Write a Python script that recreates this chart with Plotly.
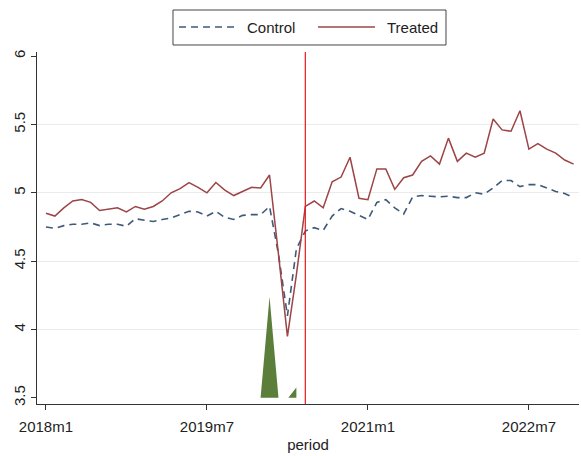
import plotly.graph_objects as go

# Monthly outcome means, 2018m1 .. 2022m12 (month index 0 = 2018m1)
months = list(range(60))
periods = [f"{2018 + m // 12}m{m % 12 + 1}" for m in months]

control = [4.75, 4.74, 4.76, 4.77, 4.77, 4.78, 4.76, 4.77, 4.77, 4.755,
           4.81, 4.80, 4.79, 4.805, 4.815, 4.84, 4.865, 4.86, 4.83, 4.865,
           4.82, 4.805, 4.835, 4.84, 4.84, 4.90, 4.55, 4.10, 4.59, 4.72,
           4.745, 4.725, 4.83, 4.885, 4.865, 4.835, 4.805, 4.93, 4.95, 4.89,
           4.845, 4.97, 4.98, 4.975, 4.97, 4.975, 4.965, 4.965, 5.00, 4.99,
           5.035, 5.09, 5.09, 5.045, 5.06, 5.06, 5.035, 5.01, 4.995, 4.965]

treated = [4.85, 4.83, 4.89, 4.94, 4.95, 4.93, 4.87, 4.88, 4.89, 4.86,
           4.90, 4.88, 4.90, 4.94, 5.00, 5.03, 5.075, 5.04, 5.00, 5.075,
           5.02, 4.98, 5.01, 5.04, 5.035, 5.13, 4.55, 3.95, 4.40, 4.90,
           4.94, 4.89, 5.08, 5.115, 5.26, 4.96, 4.95, 5.175, 5.175, 5.025,
           5.11, 5.13, 5.23, 5.27, 5.21, 5.40, 5.23, 5.29, 5.26, 5.29,
           5.54, 5.46, 5.45, 5.60, 5.32, 5.36, 5.32, 5.29, 5.24, 5.21]

# Shaded area segments (None separates the two pieces)
area_x = [24, 25, 26, None, 27.1, 28, 28]
area_y = [3.5, 4.24, 3.5, None, 3.5, 3.575, 3.5]

treat_month = 29  # 2020m6

tick_months = [0, 18, 36, 54]
tick_labels = ["2018m1", "2019m7", "2021m1", "2022m7"]
y_ticks = [3.5, 4, 4.5, 5, 5.5, 6]
y_tick_labels = ["3.5", "4", "4.5", "5", "5.5", "6"]
grid_vals = [4, 4.5, 5, 5.5]

CONTROL_COLOR = "#3f5a78"
TREATED_COLOR = "#9c4446"
CONTROL_DASH = "7px,5px"

fig = go.Figure()

fig.add_trace(go.Scatter(
    x=area_x, y=area_y, mode="none", fill="toself",
    fillcolor="#5b7f3b", showlegend=False, hoverinfo="skip"))

fig.add_trace(go.Scatter(
    x=months, y=control, mode="lines", name="Control", showlegend=False,
    line=dict(color=CONTROL_COLOR, width=1.6, dash=CONTROL_DASH),
    text=periods, hovertemplate="%{text}: %{y}<extra>Control</extra>"))

fig.add_trace(go.Scatter(
    x=months, y=treated, mode="lines", name="Treated", showlegend=False,
    line=dict(color=TREATED_COLOR, width=1.5),
    text=periods, hovertemplate="%{text}: %{y}<extra>Treated</extra>"))

fig.add_vline(x=treat_month, line=dict(color="#f0141e", width=1.2))

# Boxed legend above the plot area
legend_y = 1.071
fig.add_shape(type="rect", xref="paper", yref="paper",
              x0=0.2509, x1=0.7546, y0=1.0199, y1=1.1193,
              line=dict(color="#444444", width=1), fillcolor="white")
fig.add_shape(type="line", xref="paper", yref="paper",
              x0=0.2620, x1=0.3690, y0=legend_y, y1=legend_y,
              line=dict(color=CONTROL_COLOR, width=1.6, dash=CONTROL_DASH))
fig.add_shape(type="line", xref="paper", yref="paper",
              x0=0.5185, x1=0.6236, y0=legend_y, y1=legend_y,
              line=dict(color=TREATED_COLOR, width=1.5))
fig.add_annotation(text="Control", xref="paper", yref="paper", x=0.3838, y=legend_y,
                   xanchor="left", yanchor="middle", showarrow=False,
                   font=dict(size=15, color="#222222"))
fig.add_annotation(text="Treated", xref="paper", yref="paper", x=0.6421, y=legend_y,
                   xanchor="left", yanchor="middle", showarrow=False,
                   font=dict(size=15, color="#222222"))

fig.update_layout(
    width=581, height=456,
    margin=dict(l=37, r=2, t=52, b=52),
    paper_bgcolor="white", plot_bgcolor="white",
    font=dict(family="Liberation Sans, Arial, sans-serif", size=15, color="#222222"),
    showlegend=False,
    xaxis=dict(range=[-1.0, 59.6], tickmode="array", tickvals=tick_months,
               ticktext=tick_labels, showgrid=False, zeroline=False,
               showline=True, linecolor="#333333", linewidth=1,
               ticks="outside", ticklen=5, tickcolor="#333333",
               ticklabelstandoff=4,
               title=dict(text="period", standoff=5, font=dict(size=15))),
    yaxis=dict(range=[3.455, 6.03], tickmode="array", tickvals=y_ticks,
               ticktext=y_tick_labels, tickangle=-90, showgrid=False,
               zeroline=False, showline=True, linecolor="#333333", linewidth=1,
               ticks="outside", ticklen=5, tickcolor="#333333",
               minor=dict(tickmode="array", tickvals=grid_vals, showgrid=True,
                          gridcolor="#ebebeb", gridwidth=1, ticks="")),
)

fig.write_html("out.html")
